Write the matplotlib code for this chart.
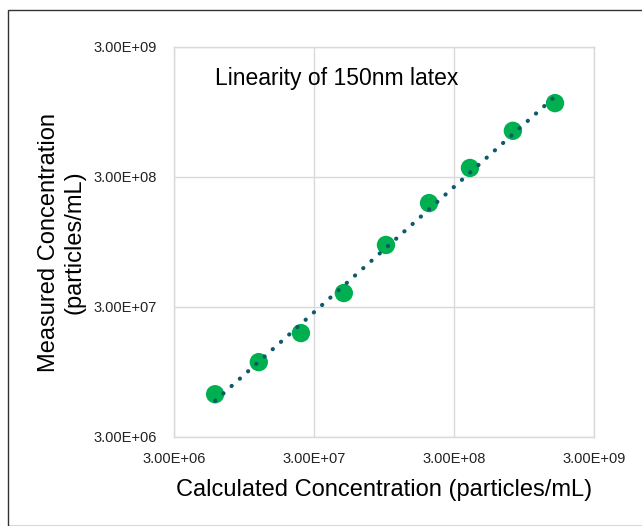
import numpy as np
import matplotlib
matplotlib.use("Agg")
import matplotlib.pyplot as plt
from matplotlib.patches import Rectangle

plt.rcParams['font.family'] = ['Liberation Sans', 'DejaVu Sans']

calculated = [5.9e6, 1.21e7, 2.42e7, 4.9e7, 9.8e7, 1.99e8, 3.9e8, 7.9e8, 1.58e9]
measured = [6.4e6, 1.13e7, 1.89e7, 3.84e7, 9.0e7, 1.89e8, 3.52e8, 6.8e8, 1.11e9]
ticks = [3e6, 3e7, 3e8, 3e9]
tick_labels = ["3.00E+06", "3.00E+07", "3.00E+08", "3.00E+09"]
title = "Linearity of 150nm latex"
xlabel = "Calculated Concentration (particles/mL)"
ylabel = "Measured Concentration\n(particles/mL)"

fig = plt.figure(figsize=(6.42, 5.26), dpi=100)
ax = fig.add_axes([174/642, 1-437/526, 420/642, 390/526])

# power trendline (fit in log space)
lx = np.log10(calculated)
ly = np.log10(measured)
b, a = np.polyfit(lx, ly, 1)
xt = np.logspace(lx.min(), lx.max(), 100)
yt = 10**(a + b*np.log10(xt))

ax.scatter(calculated, measured, s=175, color='#00B050', zorder=3, edgecolors='none')
ax.plot(xt, yt, linestyle=(0, (0.05, 2.6)), color='#0E5A6B', linewidth=3.0, zorder=4,
        dash_capstyle='round')

ax.set_xscale('log')
ax.set_yscale('log')
ax.set_xlim(3e6, 3e9)
ax.set_ylim(3e6, 3e9)
ax.set_xticks(ticks)
ax.set_xticklabels(tick_labels)
ax.set_yticks(ticks)
ax.set_yticklabels(tick_labels)
ax.minorticks_off()
ax.tick_params(length=0, labelsize=10.5, colors='#222222')
ax.tick_params(axis='x', pad=11)
ax.tick_params(axis='y', pad=12)
ax.grid(True, color='#D9D9D9', linewidth=1.0)
ax.set_axisbelow(True)
for s in ax.spines.values():
    s.set_color('#D9D9D9')
    s.set_linewidth(1.0)

ax.set_xlabel(xlabel, fontsize=17, labelpad=9)
ax.set_ylabel(ylabel, fontsize=17, labelpad=6, linespacing=1.2)
ax.text(0.098, 0.92, title, transform=ax.transAxes, fontsize=16.5, va='center', ha='left')

fig.patches.append(Rectangle((8/642, 0), 1, 1-10/526, transform=fig.transFigure,
                             fill=False, edgecolor='#333333', linewidth=1.0))

fig.savefig("out.png", dpi=100)
